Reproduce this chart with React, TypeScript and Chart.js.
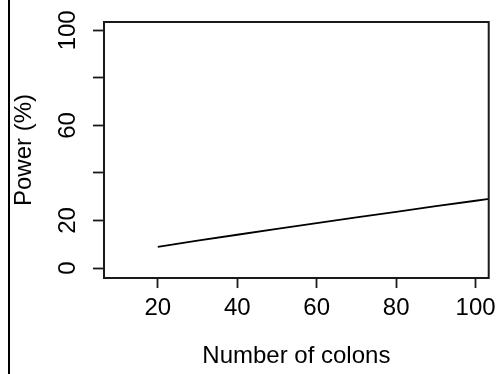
import { useEffect, useRef } from "react";
import { Chart, registerables } from "chart.js";

Chart.register(...registerables);

// Power curve against the number of colons sampled
const colons = [20, 30, 40, 50, 60, 70, 80, 90, 100, 110];
const powerPct = [8.9, 11.5, 14.0, 16.5, 18.9, 21.3, 23.6, 26.0, 28.3, 30.6];

const xTickValues = [20, 40, 60, 80, 100];
const yTickValues = [0, 20, 40, 60, 80, 100];
// Tick marks at every 20, but only these carry a printed label
const yLabelledValues = [0, 20, 60, 100];

const xLimits = [6.46, 103.3];
const yLimits = [-4.2, 103.5];

const FONT = "'Liberation Sans', Arial, sans-serif";
const FONT_SIZE = 24;

// Frame around the plotting region plus the thin rule at the left of the figure
const framePlugin = {
  id: "frame",
  afterDatasetsDraw(chart: any) {
    const { ctx, chartArea } = chart;
    ctx.save();
    ctx.strokeStyle = "#1a1a1a";
    ctx.lineWidth = 2;
    ctx.strokeRect(
      chartArea.left,
      chartArea.top,
      chartArea.right - chartArea.left,
      chartArea.bottom - chartArea.top
    );
    ctx.fillStyle = "#000";
    ctx.fillRect(8, 0, 2, chart.height);
    ctx.restore();
  },
};

export default function App() {
  const canvasRef = useRef<HTMLCanvasElement | null>(null);

  useEffect(() => {
    if (!canvasRef.current) return;
    const chart = new Chart(canvasRef.current, {
      type: "line",
      data: {
        datasets: [
          {
            data: colons.map((c, i) => ({ x: c, y: powerPct[i] })),
            borderColor: "#000",
            borderWidth: 1.8,
            pointRadius: 0,
            tension: 0,
            fill: false,
          },
        ],
      },
      options: {
        responsive: false,
        animation: false,
        devicePixelRatio: 1,
        layout: { padding: { top: 22, right: 11, left: 0, bottom: 0 } },
        plugins: {
          legend: { display: false },
          tooltip: { enabled: false },
        },
        scales: {
          x: {
            type: "linear",
            min: xLimits[0],
            max: xLimits[1],
            afterBuildTicks: (scale: any) => {
              scale.ticks = xTickValues.map((v) => ({ value: v }));
            },
            afterFit: (scale: any) => {
              scale.height = 96;
            },
            border: { display: false },
            grid: {
              drawOnChartArea: false,
              drawTicks: true,
              tickLength: 10,
              tickColor: "#1a1a1a",
              tickWidth: 1.8,
            },
            ticks: {
              color: "#000",
              padding: 6,
              maxRotation: 0,
              autoSkip: false,
              font: { family: FONT, size: FONT_SIZE },
            },
            title: {
              display: true,
              text: "Number of colons",
              color: "#000",
              font: { family: FONT, size: FONT_SIZE },
              padding: { top: 0, bottom: 3 },
            },
          },
          y: {
            type: "linear",
            min: yLimits[0],
            max: yLimits[1],
            afterBuildTicks: (scale: any) => {
              scale.ticks = yTickValues.map((v) => ({ value: v }));
            },
            afterFit: (scale: any) => {
              scale.width = 104;
            },
            border: { display: false },
            grid: {
              drawOnChartArea: false,
              drawTicks: true,
              tickLength: 11,
              tickColor: "#1a1a1a",
              tickWidth: 1.8,
            },
            ticks: {
              color: "#000",
              padding: 5,
              minRotation: 90,
              maxRotation: 90,
              crossAlign: "center",
              autoSkip: false,
              callback: (value: any) =>
                yLabelledValues.includes(Number(value)) ? String(value) : "",
              font: { family: FONT, size: FONT_SIZE, lineHeight: 0.5 },
            },
            title: {
              display: true,
              text: "Power (%)",
              color: "#000",
              font: { family: FONT, size: FONT_SIZE },
              padding: { top: 10, bottom: 0 },
            },
          },
        },
      },
      plugins: [framePlugin],
    });
    return () => chart.destroy();
  }, []);

  return (
    <div
      style={{
        position: "absolute",
        left: 0,
        top: 0,
        width: 502,
        height: 374,
        background: "#fff",
      }}
    >
      <canvas ref={canvasRef} width={502} height={374} />
    </div>
  );
}
